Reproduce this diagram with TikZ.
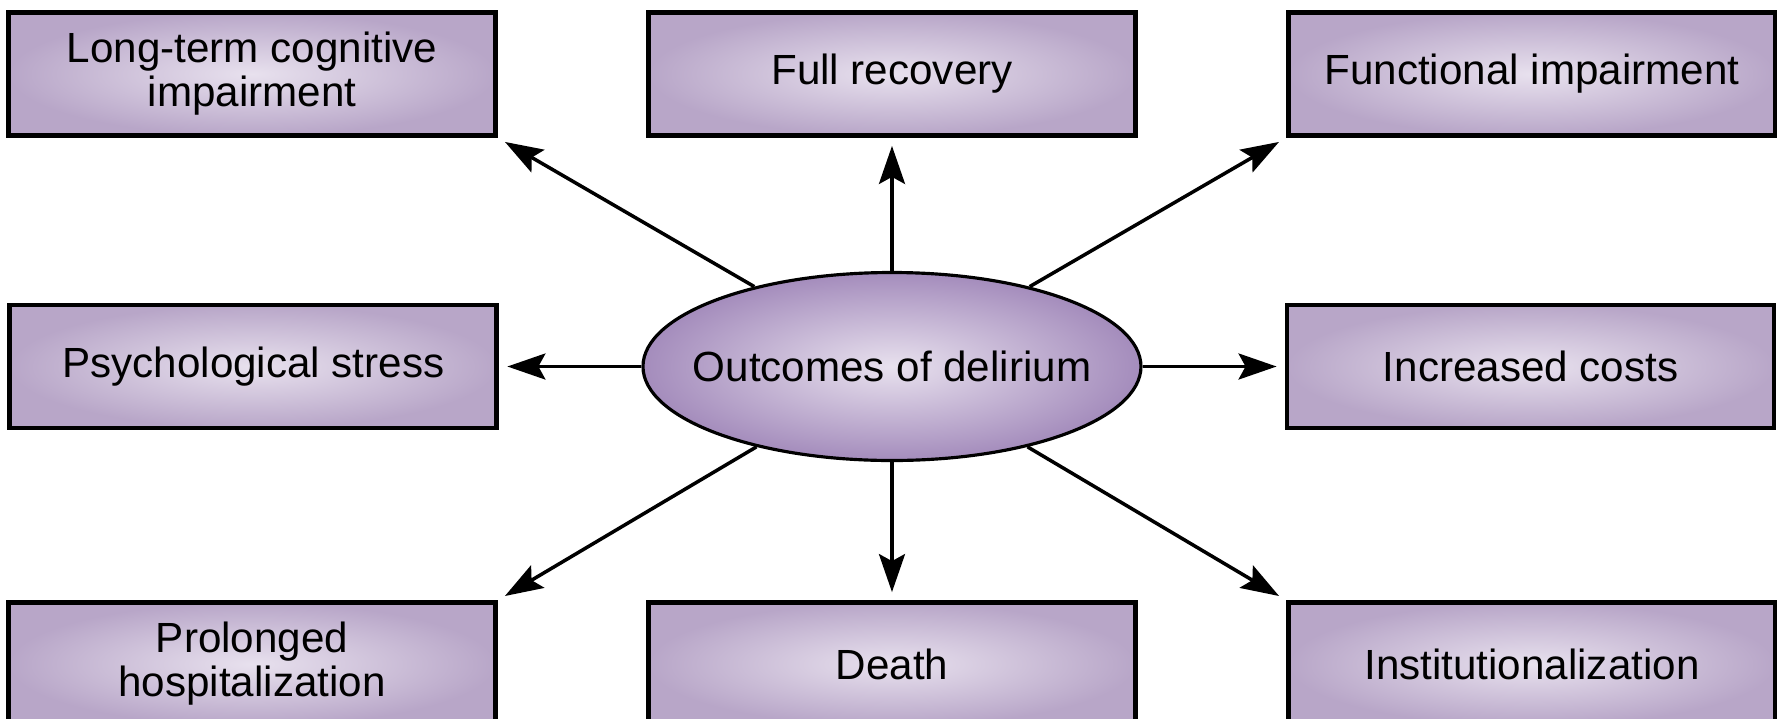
\documentclass[tikz,border=0pt]{standalone}
\usepackage{fontspec}
\setmainfont{Liberation Sans}
\usepackage{xcolor}
\usetikzlibrary{arrows.meta, positioning, shapes.geometric}

\definecolor{boxedge}{RGB}{184,166,200}
\definecolor{boxmid}{RGB}{232,225,238}
\definecolor{hubedge}{RGB}{164,140,188}

\begin{document}
\begin{tikzpicture}[
    font=\fontsize{12}{12.5}\selectfont,
    outcome/.style={rectangle, draw, line width=1.4pt, shading=radial, inner color=boxmid,
                    outer color=boxedge, minimum width=4.87cm, minimum height=1.23cm, align=center},
    hub/.style={ellipse, draw, line width=0.9pt, shading=radial, inner color=boxmid,
                outer color=hubedge, minimum width=4.98cm, minimum height=1.88cm, inner sep=0pt},
    arr/.style={-{Stealth[length=3.8mm, width=2.6mm, inset=0.7mm]}, line width=1pt, shorten >=0.08cm},
]

\useasboundingbox (-8.92,-3.515) rectangle (8.85,3.665);

\node[hub, label=center:Outcomes of delirium] (hub) {};

\node[outcome, above=1.33cm of hub] (full) {Full recovery};
\node[outcome, below=1.38cm of hub] (death) {Death};
\node[outcome, left=1.42cm of hub] (psych) {Psychological stress};
\node[outcome, right=1.42cm of hub] (costs) {Increased costs};

\node[outcome, left=1.48cm of full] (ltcog) {Long-term cognitive\\impairment};
\node[outcome, right=1.48cm of full] (functional) {Functional impairment};
\node[outcome, left=1.48cm of death] (prolonged) {Prolonged\\hospitalization};
\node[outcome, right=1.48cm of death] (inst) {Institutionalization};

\foreach \t in {full, death, psych, costs}
    \draw[arr] (hub) -- (\t);
\foreach \t/\a in {ltcog/south east, functional/south west, prolonged/north east, inst/north west}
    \draw[arr] (hub) -- (\t.\a);

\end{tikzpicture}
\end{document}
